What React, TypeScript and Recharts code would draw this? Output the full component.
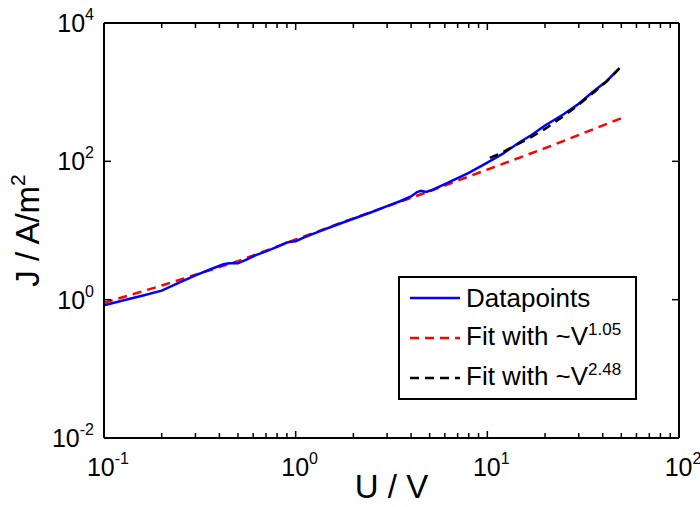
import React from "react";
import { LineChart, Line, XAxis, YAxis, Legend } from "recharts";

const FONT = "'Liberation Sans', Arial, Helvetica, sans-serif";

// Measured data (U in V, J in A/m^2)
const dataV = [0.1, 0.13, 0.16, 0.2, 0.25, 0.3, 0.36, 0.42, 0.45, 0.5, 0.55, 0.62, 0.7, 0.8, 0.9, 0.95, 1.0, 1.1, 1.3, 1.6, 2, 2.5, 3, 3.5, 4, 4.3, 4.5, 4.8, 5.2, 6, 7, 8, 10, 12, 14.8, 17, 20, 25, 30, 35.7, 42, 48.8];
const dataJ = [0.83, 1.0, 1.15, 1.35, 1.8, 2.25, 2.75, 3.25, 3.35, 3.35, 3.75, 4.4, 5.0, 5.8, 6.7, 6.9, 7.0, 7.9, 9.5, 11.8, 14.8, 18.5, 22.5, 26.5, 31, 36, 37.5, 36, 39, 47, 57, 68, 96, 128, 190, 240, 330, 480, 680, 1020, 1450, 2200];

// Fit ~V^1.05
const fit1V = [0.1, 0.2, 0.5, 1, 2, 5, 10, 20, 50];
const fit1J = [0.9, 1.6, 3.6, 7.4, 15, 37, 76, 155, 420];

// Fit ~V^2.48
const fit2V = [10.3, 12, 14, 17, 20, 25, 30, 36, 42, 49];
const fit2J = [112, 135, 170, 225, 295, 450, 660, 1000, 1430, 2230];

const xMajor = [0.1, 1, 10, 100];
const xMinorFactors = [2, 3, 4, 5, 6, 7, 8, 9];
const xTicks: number[] = [];
xMajor.forEach((m, i) => {
  xTicks.push(m);
  if (i < xMajor.length - 1) xMinorFactors.forEach((f) => xTicks.push(+(m * f).toPrecision(3)));
});
const yTicks = [0.01, 1, 100, 10000];

const legendItems = [
  { label: "Datapoints", sup: "", color: "#0000ff", dash: "" },
  { label: "Fit with ~V", sup: "1.05", color: "#ff0000", dash: "9 6" },
  { label: "Fit with ~V", sup: "2.48", color: "#000000", dash: "9 6" },
];

const toRows = (xs: number[], ys: number[]) => xs.map((v, i) => ({ v, j: ys[i] }));
const dataRows = toRows(dataV, dataJ);
const fit1Rows = toRows(fit1V, fit1J);
const fit2Rows = toRows(fit2V, fit2J);

const expOf = (v: number) => Math.round(Math.log10(v));
const isMajor = (v: number) => Math.abs(Math.log10(v) - Math.round(Math.log10(v))) < 1e-6;

const PowLabel = ({ x, y, v, anchor }: any) => (
  <text x={x} y={y} textAnchor={anchor} fontFamily={FONT} fill="#000">
    <tspan fontSize={25}>10</tspan>
    <tspan fontSize={16} dy={-12}>{expOf(v)}</tspan>
  </text>
);

const XTickBottom = (props: any) => {
  const { x, y, payload } = props;
  const v = payload.value;
  const major = isMajor(v);
  return (
    <g>
      <line x1={x} x2={x} y1={y} y2={y - (major ? 7 : 5)} stroke="#000" strokeWidth={1.5} />
      {major && <PowLabel x={x + 4} y={y + 38} v={v} anchor="middle" />}
    </g>
  );
};

const XTickTop = (props: any) => {
  const { x, y, payload } = props;
  const major = isMajor(payload.value);
  return <line x1={x} x2={x} y1={y} y2={y + (major ? 7 : 5)} stroke="#000" strokeWidth={1.5} />;
};

const YTickLeft = (props: any) => {
  const { x, y, payload } = props;
  return (
    <g>
      <line x1={x} x2={x + 7} y1={y} y2={y} stroke="#000" strokeWidth={1.5} />
      <PowLabel x={x - 10} y={y + 9} v={payload.value} anchor="end" />
    </g>
  );
};

const YTickRight = (props: any) => {
  const { x, y } = props;
  return <line x1={x} x2={x - 7} y1={y} y2={y} stroke="#000" strokeWidth={1.5} />;
};

const XTitle = (props: any) => {
  const { viewBox } = props;
  const cx = viewBox.x + viewBox.width / 2;
  return (
    <text x={cx} y={viewBox.y + 60} textAnchor="middle" fontFamily={FONT} fontSize={33} fill="#000">
      U / V
    </text>
  );
};

const YTitle = (props: any) => {
  const { viewBox } = props;
  const cy = viewBox.y + viewBox.height / 2;
  const cx = 39;
  return (
    <text x={cx} y={cy} textAnchor="middle" fontFamily={FONT} fontSize={33} fill="#000" transform={`rotate(-90 ${cx} ${cy})`}>
      <tspan>J / A/m</tspan>
      <tspan fontSize={21} dy={-14}>2</tspan>
    </text>
  );
};

const LegendBox = () => (
  <div
    style={{
      border: "2px solid #000",
      background: "#fff",
      width: 239,
      paddingLeft: 10,
      boxSizing: "border-box",
      fontFamily: FONT,
    }}
  >
    {legendItems.map((it, i) => (
      <div key={i} style={{ height: 40, display: "flex", alignItems: "center" }}>
        <svg width={50} height={10} style={{ flex: "none" }}>
          <line x1={0} x2={50} y1={5} y2={5} stroke={it.color} strokeWidth={2.5} strokeDasharray={it.dash || undefined} />
        </svg>
        <span style={{ fontSize: 26, marginLeft: 6, lineHeight: "30px", whiteSpace: "nowrap", color: "#000" }}>
          {it.label}
          {it.sup && <span style={{ fontSize: 17, position: "relative", top: -10 }}>{it.sup}</span>}
        </span>
      </div>
    ))}
  </div>
);

export default function App() {
  return (
    <div style={{ position: "absolute", left: 0, top: 0, width: 700, height: 507, background: "#fff" }}>
      <LineChart width={700} height={507} margin={{ top: 22, right: 20, bottom: 39, left: 44 }}>
        <XAxis
          dataKey="v"
          type="number"
          scale="log"
          domain={[0.1, 100]}
          allowDataOverflow
          ticks={xTicks}
          interval={0}
          tick={<XTickBottom />}
          tickSize={0}
          tickMargin={0}
          tickLine={false}
          axisLine={{ stroke: "#000", strokeWidth: 2 }}
          height={30}
          label={<XTitle />}
        />
        <XAxis
          xAxisId="top"
          orientation="top"
          dataKey="v"
          type="number"
          scale="log"
          domain={[0.1, 100]}
          allowDataOverflow
          ticks={xTicks}
          interval={0}
          tick={<XTickTop />}
          tickSize={0}
          tickMargin={0}
          tickLine={false}
          axisLine={{ stroke: "#000", strokeWidth: 2 }}
          height={1}
        />
        <YAxis
          dataKey="j"
          type="number"
          scale="log"
          domain={[0.01, 10000]}
          allowDataOverflow
          ticks={yTicks}
          interval={0}
          tick={<YTickLeft />}
          tickSize={0}
          tickMargin={0}
          tickLine={false}
          axisLine={{ stroke: "#000", strokeWidth: 2 }}
          width={60}
          label={<YTitle />}
        />
        <YAxis
          yAxisId="right"
          orientation="right"
          dataKey="j"
          type="number"
          scale="log"
          domain={[0.01, 10000]}
          allowDataOverflow
          ticks={yTicks}
          interval={0}
          tick={<YTickRight />}
          tickSize={0}
          tickMargin={0}
          tickLine={false}
          axisLine={{ stroke: "#000", strokeWidth: 2 }}
          width={1}
        />
        <Line data={fit1Rows} dataKey="j" stroke="#ff0000" strokeWidth={2.5} strokeDasharray="9 6" dot={false} isAnimationActive={false} name="fit1" />
        <Line data={dataRows} dataKey="j" stroke="#0000ff" strokeWidth={2.5} dot={false} isAnimationActive={false} name="data" />
        <Line data={fit2Rows} dataKey="j" stroke="#000000" strokeWidth={2.5} strokeDasharray="9 6" dot={false} isAnimationActive={false} name="fit2" />
        <Legend
          layout="vertical"
          align="center"
          verticalAlign="middle"
          content={<LegendBox />}
          wrapperStyle={{ left: 398, top: 276, width: 240, height: 124 }}
        />
      </LineChart>
    </div>
  );
}
